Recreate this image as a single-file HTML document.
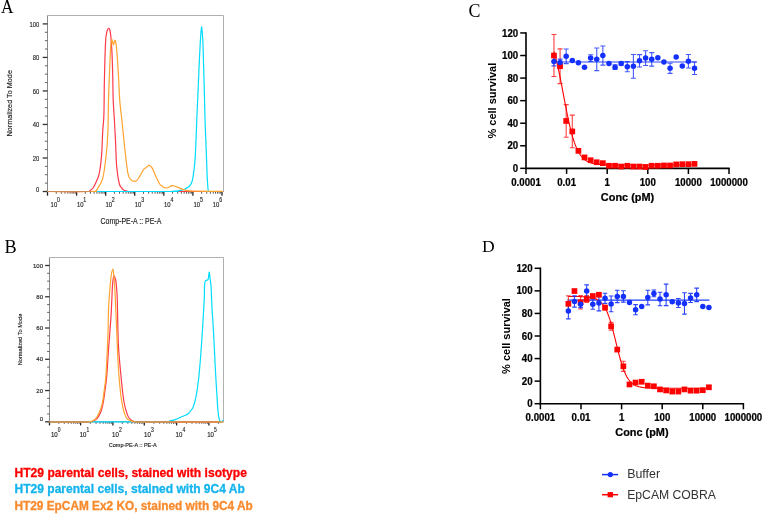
<!DOCTYPE html>
<html><head><meta charset="utf-8"><title>Figure</title>
<style>
html,body{margin:0;padding:0;background:#fff;width:764px;height:514px;overflow:hidden}
svg{display:block;filter:blur(0.3px)}
text{font-family:"Liberation Sans",sans-serif}
</style></head><body>
<svg width="764" height="514" viewBox="0 0 764 514">
<rect width="764" height="514" fill="#fff"/>
<text transform="translate(1.0 13.3) scale(0.93 1)" font-size="18.6" style="font-family:'Liberation Serif',serif" fill="#000">A</text>
<text x="4.4" y="253.1" font-size="18.2" style="font-family:'Liberation Serif',serif" fill="#000">B</text>
<text transform="translate(468.6 16.8) scale(0.93 1)" font-size="19.3" style="font-family:'Liberation Serif',serif" fill="#000">C</text>
<text x="482.0" y="251.9" font-size="17.6" style="font-family:'Liberation Serif',serif" fill="#000">D</text>
<path d="M47.5 15.5H223.5V191.5" fill="none" stroke="#b0b0b0" stroke-width="1"/>
<path d="M47.5 15.5V191.5H223.5" fill="none" stroke="#8a8a8a" stroke-width="1"/>
<path d="M42.7 191.5H47.5" stroke="#333" stroke-width="1.3"/>
<text transform="translate(39.3 191.65) scale(0.76 1)" font-size="7.7" text-anchor="end" fill="#222" stroke="#222" stroke-width="0.15">0</text>
<path d="M44.9 183.12H47.5" stroke="#555" stroke-width="0.9"/>
<path d="M44.9 174.74H47.5" stroke="#555" stroke-width="0.9"/>
<path d="M44.9 166.36H47.5" stroke="#555" stroke-width="0.9"/>
<path d="M42.7 157.98H47.5" stroke="#333" stroke-width="1.3"/>
<text transform="translate(39.3 160.73) scale(0.76 1)" font-size="7.7" text-anchor="end" fill="#222" stroke="#222" stroke-width="0.15">20</text>
<path d="M44.9 149.6H47.5" stroke="#555" stroke-width="0.9"/>
<path d="M44.9 141.22H47.5" stroke="#555" stroke-width="0.9"/>
<path d="M44.9 132.84H47.5" stroke="#555" stroke-width="0.9"/>
<path d="M42.7 124.46H47.5" stroke="#333" stroke-width="1.3"/>
<text transform="translate(39.3 127.21) scale(0.76 1)" font-size="7.7" text-anchor="end" fill="#222" stroke="#222" stroke-width="0.15">40</text>
<path d="M44.9 116.08H47.5" stroke="#555" stroke-width="0.9"/>
<path d="M44.9 107.7H47.5" stroke="#555" stroke-width="0.9"/>
<path d="M44.9 99.32H47.5" stroke="#555" stroke-width="0.9"/>
<path d="M42.7 90.94H47.5" stroke="#333" stroke-width="1.3"/>
<text transform="translate(39.3 93.69) scale(0.76 1)" font-size="7.7" text-anchor="end" fill="#222" stroke="#222" stroke-width="0.15">60</text>
<path d="M44.9 82.56H47.5" stroke="#555" stroke-width="0.9"/>
<path d="M44.9 74.18H47.5" stroke="#555" stroke-width="0.9"/>
<path d="M44.9 65.8H47.5" stroke="#555" stroke-width="0.9"/>
<path d="M42.7 57.42H47.5" stroke="#333" stroke-width="1.3"/>
<text transform="translate(39.3 60.17) scale(0.76 1)" font-size="7.7" text-anchor="end" fill="#222" stroke="#222" stroke-width="0.15">80</text>
<path d="M44.9 49.04H47.5" stroke="#555" stroke-width="0.9"/>
<path d="M44.9 40.66H47.5" stroke="#555" stroke-width="0.9"/>
<path d="M44.9 32.28H47.5" stroke="#555" stroke-width="0.9"/>
<path d="M42.7 23.9H47.5" stroke="#333" stroke-width="1.3"/>
<text transform="translate(39.3 26.65) scale(0.76 1)" font-size="7.7" text-anchor="end" fill="#222" stroke="#222" stroke-width="0.15">100</text>
<path d="M47.5 191.5V195.7" stroke="#222" stroke-width="1.3"/>
<path d="M56.25 191.5V193.7" stroke="#444" stroke-width="0.9"/>
<path d="M61.37 191.5V193.7" stroke="#444" stroke-width="0.9"/>
<path d="M65.01 191.5V193.7" stroke="#444" stroke-width="0.9"/>
<path d="M67.83 191.5V193.7" stroke="#444" stroke-width="0.9"/>
<path d="M70.13 191.5V193.7" stroke="#444" stroke-width="0.9"/>
<path d="M72.08 191.5V193.7" stroke="#444" stroke-width="0.9"/>
<path d="M73.76 191.5V193.7" stroke="#444" stroke-width="0.9"/>
<path d="M75.25 191.5V193.7" stroke="#444" stroke-width="0.9"/>
<path d="M76.58 191.5V195.7" stroke="#222" stroke-width="1.3"/>
<path d="M85.33 191.5V193.7" stroke="#444" stroke-width="0.9"/>
<path d="M90.45 191.5V193.7" stroke="#444" stroke-width="0.9"/>
<path d="M94.09 191.5V193.7" stroke="#444" stroke-width="0.9"/>
<path d="M96.91 191.5V193.7" stroke="#444" stroke-width="0.9"/>
<path d="M99.21 191.5V193.7" stroke="#444" stroke-width="0.9"/>
<path d="M101.16 191.5V193.7" stroke="#444" stroke-width="0.9"/>
<path d="M102.84 191.5V193.7" stroke="#444" stroke-width="0.9"/>
<path d="M104.33 191.5V193.7" stroke="#444" stroke-width="0.9"/>
<path d="M105.66 191.5V195.7" stroke="#222" stroke-width="1.3"/>
<path d="M114.41 191.5V193.7" stroke="#444" stroke-width="0.9"/>
<path d="M119.53 191.5V193.7" stroke="#444" stroke-width="0.9"/>
<path d="M123.17 191.5V193.7" stroke="#444" stroke-width="0.9"/>
<path d="M125.99 191.5V193.7" stroke="#444" stroke-width="0.9"/>
<path d="M128.29 191.5V193.7" stroke="#444" stroke-width="0.9"/>
<path d="M130.24 191.5V193.7" stroke="#444" stroke-width="0.9"/>
<path d="M131.92 191.5V193.7" stroke="#444" stroke-width="0.9"/>
<path d="M133.41 191.5V193.7" stroke="#444" stroke-width="0.9"/>
<path d="M134.74 191.5V195.7" stroke="#222" stroke-width="1.3"/>
<path d="M143.49 191.5V193.7" stroke="#444" stroke-width="0.9"/>
<path d="M148.61 191.5V193.7" stroke="#444" stroke-width="0.9"/>
<path d="M152.25 191.5V193.7" stroke="#444" stroke-width="0.9"/>
<path d="M155.07 191.5V193.7" stroke="#444" stroke-width="0.9"/>
<path d="M157.37 191.5V193.7" stroke="#444" stroke-width="0.9"/>
<path d="M159.32 191.5V193.7" stroke="#444" stroke-width="0.9"/>
<path d="M161 191.5V193.7" stroke="#444" stroke-width="0.9"/>
<path d="M162.49 191.5V193.7" stroke="#444" stroke-width="0.9"/>
<path d="M163.82 191.5V195.7" stroke="#222" stroke-width="1.3"/>
<path d="M172.57 191.5V193.7" stroke="#444" stroke-width="0.9"/>
<path d="M177.69 191.5V193.7" stroke="#444" stroke-width="0.9"/>
<path d="M181.33 191.5V193.7" stroke="#444" stroke-width="0.9"/>
<path d="M184.15 191.5V193.7" stroke="#444" stroke-width="0.9"/>
<path d="M186.45 191.5V193.7" stroke="#444" stroke-width="0.9"/>
<path d="M188.4 191.5V193.7" stroke="#444" stroke-width="0.9"/>
<path d="M190.08 191.5V193.7" stroke="#444" stroke-width="0.9"/>
<path d="M191.57 191.5V193.7" stroke="#444" stroke-width="0.9"/>
<path d="M192.9 191.5V195.7" stroke="#222" stroke-width="1.3"/>
<path d="M201.65 191.5V193.7" stroke="#444" stroke-width="0.9"/>
<path d="M206.77 191.5V193.7" stroke="#444" stroke-width="0.9"/>
<path d="M210.41 191.5V193.7" stroke="#444" stroke-width="0.9"/>
<path d="M213.23 191.5V193.7" stroke="#444" stroke-width="0.9"/>
<path d="M215.53 191.5V193.7" stroke="#444" stroke-width="0.9"/>
<path d="M217.48 191.5V193.7" stroke="#444" stroke-width="0.9"/>
<path d="M219.16 191.5V193.7" stroke="#444" stroke-width="0.9"/>
<path d="M220.65 191.5V193.7" stroke="#444" stroke-width="0.9"/>
<path d="M221.98 191.5V195.7" stroke="#222" stroke-width="1.3"/>
<path d="M47.5 191.5C53.92 191.5 78.92 191.65 86 191.5C93.08 191.35 88.83 191.18 90 190.6C91.17 190.02 92.05 189.27 93 188C93.95 186.73 94.67 185.38 95.7 183C96.73 180.62 98.22 178.37 99.2 173.7C100.18 169.03 101.02 162 101.6 155C102.18 148 102.32 138.37 102.7 131.7C103.08 125.03 103.63 122.78 103.9 115C104.17 107.22 104.13 94.17 104.3 85C104.47 75.83 104.67 67.5 104.9 60C105.13 52.5 105.42 44.5 105.7 40C105.98 35.5 106.28 34.73 106.6 33C106.92 31.27 107.22 30.38 107.6 29.6C107.98 28.82 108.5 28.15 108.9 28.3C109.3 28.45 109.67 29.05 110 30.5C110.33 31.95 110.58 33.57 110.9 37C111.22 40.43 111.6 44.85 111.9 51.1C112.2 57.35 112.48 66.35 112.7 74.5C112.92 82.65 112.92 92.42 113.2 100C113.48 107.58 114 112.78 114.4 120C114.8 127.22 115.22 135.52 115.6 143.3C115.98 151.08 116.12 160.08 116.7 166.7C117.28 173.32 118.32 179.5 119.1 183C119.88 186.5 120.58 186.48 121.4 187.7C122.22 188.92 122.9 189.7 124 190.3C125.1 190.9 126.17 191.1 128 191.3C129.83 191.5 119.17 191.47 135 191.5C150.83 191.53 208.33 191.5 223 191.5" fill="none" stroke="#ff3a48" stroke-width="1.2" stroke-linejoin="round"/>
<path d="M47.5 191.5C67.58 191.5 147.17 191.52 168 191.5C188.83 191.48 170.83 191.52 172.5 191.4C174.17 191.28 176.42 191.02 178 190.8C179.58 190.58 180.83 190.38 182 190.1C183.17 189.82 184 189.57 185 189.1C186 188.63 187.07 188.05 188 187.3C188.93 186.55 189.9 185.65 190.6 184.6C191.3 183.55 191.75 182.6 192.2 181C192.65 179.4 192.9 177.67 193.3 175C193.7 172.33 194.23 168.83 194.6 165C194.97 161.17 195.23 157 195.5 152C195.77 147 195.97 140.83 196.2 135C196.43 129.17 196.58 124.5 196.9 117C197.22 109.5 197.72 98.83 198.1 90C198.48 81.17 198.83 72 199.2 64C199.57 56 200 47.33 200.3 42C200.6 36.67 200.78 34.55 201 32C201.22 29.45 201.4 26.7 201.6 26.7C201.8 26.7 201.98 29.45 202.2 32C202.42 34.55 202.68 37 202.9 42C203.12 47 203.27 54 203.5 62C203.73 70 204.07 81.17 204.3 90C204.53 98.83 204.68 107.5 204.9 115C205.12 122.5 205.35 128.33 205.6 135C205.85 141.67 206.15 148.33 206.4 155C206.65 161.67 206.88 170 207.1 175C207.32 180 207.52 182.42 207.7 185C207.88 187.58 207.98 189.42 208.2 190.5C208.42 191.58 208.87 191.33 209 191.5" fill="none" stroke="#00dcff" stroke-width="1.2" stroke-linejoin="round"/>
<path d="M47.5 191.5C54.92 191.5 83.92 191.67 92 191.5C100.08 191.33 95 191.13 96 190.5C97 189.87 96.88 189.72 98 187.7C99.12 185.68 101.33 183.85 102.7 178.4C104.07 172.95 105.33 162.78 106.2 155C107.07 147.22 107.52 140.87 107.9 131.7C108.28 122.53 108.22 110.28 108.5 100C108.78 89.72 109.25 78.67 109.6 70C109.95 61.33 110.27 53.08 110.6 48C110.93 42.92 111.28 40.5 111.6 39.5C111.92 38.5 112.18 41.1 112.5 42C112.82 42.9 113.18 44.98 113.5 44.9C113.82 44.82 114.1 42.23 114.4 41.5C114.7 40.77 114.98 39.75 115.3 40.5C115.62 41.25 115.93 42.75 116.3 46C116.67 49.25 117.1 54.33 117.5 60C117.9 65.67 118.33 73.33 118.7 80C119.07 86.67 119.27 94.17 119.7 100C120.13 105.83 120.77 110 121.3 115C121.83 120 122.3 124.25 122.9 130C123.5 135.75 124.08 142.37 124.9 149.5C125.72 156.63 126.83 167.78 127.8 172.8C128.77 177.82 129.4 178.2 130.7 179.6C132 181 134.13 181.68 135.6 181.2C137.07 180.72 138.22 178.58 139.5 176.7C140.78 174.82 142.17 171.43 143.3 169.9C144.43 168.37 145.32 168.25 146.3 167.5C147.28 166.75 148.23 165.33 149.2 165.4C150.17 165.47 150.97 166.02 152.1 167.9C153.23 169.78 154.53 173.78 156 176.7C157.47 179.62 159.12 183.52 160.9 185.4C162.68 187.28 164.92 187.97 166.7 188C168.48 188.03 170.15 185.87 171.6 185.6C173.05 185.33 173.95 185.93 175.4 186.4C176.85 186.87 178.52 187.75 180.3 188.4C182.08 189.05 183.83 189.85 186.1 190.3C188.37 190.75 187.75 190.93 193.9 191.1C200.05 191.27 218.15 191.27 223 191.3" fill="none" stroke="#ffa22e" stroke-width="1.2" stroke-linejoin="round"/>
<path d="M47.5 191.5H90.5" stroke="#cf8a52" stroke-width="1.2"/>
<text transform="translate(50.6 206.6) scale(0.8 1)" font-size="7.4" fill="#222" stroke="#222" stroke-width="0.15">10</text>
<text transform="translate(57.05 202.3) scale(0.7 1)" font-size="7.5" fill="#222" stroke="#222" stroke-width="0.15">0</text>
<text transform="translate(76.9 206.6) scale(0.8 1)" font-size="7.4" fill="#222" stroke="#222" stroke-width="0.15">10</text>
<text transform="translate(83.35 202.3) scale(0.7 1)" font-size="7.5" fill="#222" stroke="#222" stroke-width="0.15">1</text>
<text transform="translate(105.4 206.6) scale(0.8 1)" font-size="7.4" fill="#222" stroke="#222" stroke-width="0.15">10</text>
<text transform="translate(111.85 202.3) scale(0.7 1)" font-size="7.5" fill="#222" stroke="#222" stroke-width="0.15">2</text>
<text transform="translate(134.8 206.6) scale(0.8 1)" font-size="7.4" fill="#222" stroke="#222" stroke-width="0.15">10</text>
<text transform="translate(141.25 202.3) scale(0.7 1)" font-size="7.5" fill="#222" stroke="#222" stroke-width="0.15">3</text>
<text transform="translate(164 206.6) scale(0.8 1)" font-size="7.4" fill="#222" stroke="#222" stroke-width="0.15">10</text>
<text transform="translate(170.45 202.3) scale(0.7 1)" font-size="7.5" fill="#222" stroke="#222" stroke-width="0.15">4</text>
<text transform="translate(193.5 206.6) scale(0.8 1)" font-size="7.4" fill="#222" stroke="#222" stroke-width="0.15">10</text>
<text transform="translate(199.95 202.3) scale(0.7 1)" font-size="7.5" fill="#222" stroke="#222" stroke-width="0.15">5</text>
<text transform="translate(212.7 206.6) scale(0.8 1)" font-size="7.4" fill="#222" stroke="#222" stroke-width="0.15">10</text>
<text transform="translate(219.15 202.3) scale(0.7 1)" font-size="7.5" fill="#222" stroke="#222" stroke-width="0.15">6</text>
<text transform="translate(100.6 224) scale(0.83 1)" font-size="8.4" fill="#222" stroke="#222" stroke-width="0.15">Comp-PE-A :: PE-A</text>
<text transform="translate(12.1 103.3) rotate(-90) scale(0.91 1)" font-size="8" text-anchor="middle" fill="#222" stroke="#222" stroke-width="0.15">Normalized To Mode</text>
<path d="M49.5 257.5H223.5V421.8" fill="none" stroke="#b0b0b0" stroke-width="1"/>
<path d="M49.5 257.5V421.8H223.5" fill="none" stroke="#8a8a8a" stroke-width="1"/>
<path d="M45.1 421.8H49.5" stroke="#333" stroke-width="1.3"/>
<text transform="translate(43 421.4) scale(0.97 1)" font-size="6.2" text-anchor="end" fill="#222" stroke="#222" stroke-width="0.15">0</text>
<path d="M47.1 413.99H49.5" stroke="#555" stroke-width="0.9"/>
<path d="M47.1 406.17H49.5" stroke="#555" stroke-width="0.9"/>
<path d="M47.1 398.36H49.5" stroke="#555" stroke-width="0.9"/>
<path d="M45.1 390.54H49.5" stroke="#333" stroke-width="1.3"/>
<text transform="translate(43 392.74) scale(0.97 1)" font-size="6.2" text-anchor="end" fill="#222" stroke="#222" stroke-width="0.15">20</text>
<path d="M47.1 382.73H49.5" stroke="#555" stroke-width="0.9"/>
<path d="M47.1 374.91H49.5" stroke="#555" stroke-width="0.9"/>
<path d="M47.1 367.1H49.5" stroke="#555" stroke-width="0.9"/>
<path d="M45.1 359.28H49.5" stroke="#333" stroke-width="1.3"/>
<text transform="translate(43 361.48) scale(0.97 1)" font-size="6.2" text-anchor="end" fill="#222" stroke="#222" stroke-width="0.15">40</text>
<path d="M47.1 351.47H49.5" stroke="#555" stroke-width="0.9"/>
<path d="M47.1 343.65H49.5" stroke="#555" stroke-width="0.9"/>
<path d="M47.1 335.84H49.5" stroke="#555" stroke-width="0.9"/>
<path d="M45.1 328.02H49.5" stroke="#333" stroke-width="1.3"/>
<text transform="translate(43 330.22) scale(0.97 1)" font-size="6.2" text-anchor="end" fill="#222" stroke="#222" stroke-width="0.15">60</text>
<path d="M47.1 320.2H49.5" stroke="#555" stroke-width="0.9"/>
<path d="M47.1 312.39H49.5" stroke="#555" stroke-width="0.9"/>
<path d="M47.1 304.57H49.5" stroke="#555" stroke-width="0.9"/>
<path d="M45.1 296.76H49.5" stroke="#333" stroke-width="1.3"/>
<text transform="translate(43 298.96) scale(0.97 1)" font-size="6.2" text-anchor="end" fill="#222" stroke="#222" stroke-width="0.15">80</text>
<path d="M47.1 288.94H49.5" stroke="#555" stroke-width="0.9"/>
<path d="M47.1 281.13H49.5" stroke="#555" stroke-width="0.9"/>
<path d="M47.1 273.31H49.5" stroke="#555" stroke-width="0.9"/>
<path d="M45.1 265.5H49.5" stroke="#333" stroke-width="1.3"/>
<text transform="translate(43 267.7) scale(0.97 1)" font-size="6.2" text-anchor="end" fill="#222" stroke="#222" stroke-width="0.15">100</text>
<path d="M49.5 421.8V425.4" stroke="#222" stroke-width="1.3"/>
<path d="M58.86 421.8V423.8" stroke="#444" stroke-width="0.9"/>
<path d="M64.34 421.8V423.8" stroke="#444" stroke-width="0.9"/>
<path d="M68.22 421.8V423.8" stroke="#444" stroke-width="0.9"/>
<path d="M71.24 421.8V423.8" stroke="#444" stroke-width="0.9"/>
<path d="M73.7 421.8V423.8" stroke="#444" stroke-width="0.9"/>
<path d="M75.78 421.8V423.8" stroke="#444" stroke-width="0.9"/>
<path d="M77.59 421.8V423.8" stroke="#444" stroke-width="0.9"/>
<path d="M79.18 421.8V423.8" stroke="#444" stroke-width="0.9"/>
<path d="M80.6 421.8V425.4" stroke="#222" stroke-width="1.3"/>
<path d="M90.32 421.8V423.8" stroke="#444" stroke-width="0.9"/>
<path d="M96.01 421.8V423.8" stroke="#444" stroke-width="0.9"/>
<path d="M100.05 421.8V423.8" stroke="#444" stroke-width="0.9"/>
<path d="M103.18 421.8V423.8" stroke="#444" stroke-width="0.9"/>
<path d="M105.73 421.8V423.8" stroke="#444" stroke-width="0.9"/>
<path d="M107.9 421.8V423.8" stroke="#444" stroke-width="0.9"/>
<path d="M109.77 421.8V423.8" stroke="#444" stroke-width="0.9"/>
<path d="M111.42 421.8V423.8" stroke="#444" stroke-width="0.9"/>
<path d="M112.9 421.8V425.4" stroke="#222" stroke-width="1.3"/>
<path d="M122.35 421.8V423.8" stroke="#444" stroke-width="0.9"/>
<path d="M127.88 421.8V423.8" stroke="#444" stroke-width="0.9"/>
<path d="M131.8 421.8V423.8" stroke="#444" stroke-width="0.9"/>
<path d="M134.85 421.8V423.8" stroke="#444" stroke-width="0.9"/>
<path d="M137.33 421.8V423.8" stroke="#444" stroke-width="0.9"/>
<path d="M139.44 421.8V423.8" stroke="#444" stroke-width="0.9"/>
<path d="M141.26 421.8V423.8" stroke="#444" stroke-width="0.9"/>
<path d="M142.86 421.8V423.8" stroke="#444" stroke-width="0.9"/>
<path d="M144.3 421.8V425.4" stroke="#222" stroke-width="1.3"/>
<path d="M154.02 421.8V423.8" stroke="#444" stroke-width="0.9"/>
<path d="M159.71 421.8V423.8" stroke="#444" stroke-width="0.9"/>
<path d="M163.75 421.8V423.8" stroke="#444" stroke-width="0.9"/>
<path d="M166.88 421.8V423.8" stroke="#444" stroke-width="0.9"/>
<path d="M169.43 421.8V423.8" stroke="#444" stroke-width="0.9"/>
<path d="M171.6 421.8V423.8" stroke="#444" stroke-width="0.9"/>
<path d="M173.47 421.8V423.8" stroke="#444" stroke-width="0.9"/>
<path d="M175.12 421.8V423.8" stroke="#444" stroke-width="0.9"/>
<path d="M176.6 421.8V425.4" stroke="#222" stroke-width="1.3"/>
<path d="M186.32 421.8V423.8" stroke="#444" stroke-width="0.9"/>
<path d="M192.01 421.8V423.8" stroke="#444" stroke-width="0.9"/>
<path d="M196.05 421.8V423.8" stroke="#444" stroke-width="0.9"/>
<path d="M199.18 421.8V423.8" stroke="#444" stroke-width="0.9"/>
<path d="M201.73 421.8V423.8" stroke="#444" stroke-width="0.9"/>
<path d="M203.9 421.8V423.8" stroke="#444" stroke-width="0.9"/>
<path d="M205.77 421.8V423.8" stroke="#444" stroke-width="0.9"/>
<path d="M207.42 421.8V423.8" stroke="#444" stroke-width="0.9"/>
<path d="M208.9 421.8V425.4" stroke="#222" stroke-width="1.3"/>
<path d="M218.62 421.8V423.8" stroke="#444" stroke-width="0.9"/>
<path d="M49.5 421.8C56.08 421.8 81.75 421.93 89 421.8C96.25 421.67 91.67 421.55 93 421C94.33 420.45 95.7 420 97 418.5C98.3 417 99.8 414.42 100.8 412C101.8 409.58 102.33 407.33 103 404C103.67 400.67 104.18 396.63 104.8 392C105.42 387.37 106.08 383.2 106.7 376.2C107.32 369.2 107.95 357.7 108.5 350C109.05 342.3 109.57 335.83 110 330C110.43 324.17 110.78 320.33 111.1 315C111.42 309.67 111.65 303.17 111.9 298C112.15 292.83 112.28 287.67 112.6 284C112.92 280.33 113.4 277 113.8 276C114.2 275 114.67 277.27 115 278C115.33 278.73 115.53 278.73 115.8 280.4C116.07 282.07 116.35 284.73 116.6 288C116.85 291.27 117.08 293 117.3 300C117.52 307 117.67 321.67 117.9 330C118.13 338.33 118.18 342.3 118.7 350C119.22 357.7 120.28 368.7 121 376.2C121.72 383.7 122.43 390.37 123 395C123.57 399.63 123.82 401.17 124.4 404C124.98 406.83 125.73 409.67 126.5 412C127.27 414.33 127.82 416.45 129 418C130.18 419.55 131.77 420.67 133.6 421.3C135.43 421.93 125.1 421.72 140 421.8C154.9 421.88 209.17 421.8 223 421.8" fill="none" stroke="#ff3a48" stroke-width="1.2" stroke-linejoin="round"/>
<path d="M49.5 421.8C68.58 421.8 143.92 422 164 421.8C184.08 421.6 168 421 170 420.6C172 420.2 174.1 420.03 176 419.4C177.9 418.77 179.82 417.48 181.4 416.8C182.98 416.12 184.32 415.85 185.5 415.3C186.68 414.75 187.58 414.3 188.5 413.5C189.42 412.7 190.23 411.55 191 410.5C191.77 409.45 192.47 408.62 193.1 407.2C193.73 405.78 194.25 404.12 194.8 402C195.35 399.88 195.78 398.17 196.4 394.5C197.02 390.83 197.85 385.62 198.5 380C199.15 374.38 199.75 367.47 200.3 360.8C200.85 354.13 201.35 346.62 201.8 340C202.25 333.38 202.6 327.77 203 321.1C203.4 314.43 203.93 306.02 204.2 300C204.47 293.98 204.38 288.17 204.6 285C204.82 281.83 205.13 281.78 205.5 281C205.87 280.22 206.35 280.63 206.8 280.3C207.25 279.97 207.8 280.35 208.2 279C208.6 277.65 208.93 272.7 209.2 272.2C209.47 271.7 209.63 274.78 209.8 276C209.97 277.22 209.98 277.63 210.2 279.5C210.42 281.37 210.87 283.97 211.1 287.2C211.33 290.43 211.43 295.1 211.6 298.9C211.77 302.7 211.85 305.65 212.1 310C212.35 314.35 212.75 319.17 213.1 325C213.45 330.83 213.82 337.5 214.2 345C214.58 352.5 215 362.5 215.4 370C215.8 377.5 216.18 383.33 216.6 390C217.02 396.67 217.45 405.08 217.9 410C218.35 414.92 218.78 417.53 219.3 419.5C219.82 421.47 220.45 421.52 221 421.8C221.55 422.08 222.18 421.53 222.6 421.2C223.02 420.87 223.35 420.03 223.5 419.8" fill="none" stroke="#00dcff" stroke-width="1.2" stroke-linejoin="round"/>
<path d="M49.5 421.8C55.92 421.8 80.92 421.93 88 421.8C95.08 421.67 90.67 421.55 92 421C93.33 420.45 94.75 420 96 418.5C97.25 417 98.47 414.42 99.5 412C100.53 409.58 101.45 407.33 102.2 404C102.95 400.67 103.38 396.63 104 392C104.62 387.37 105.35 383.2 105.9 376.2C106.45 369.2 106.93 357.7 107.3 350C107.67 342.3 107.9 336.67 108.1 330C108.3 323.33 108.22 316.67 108.5 310C108.78 303.33 109.33 295.83 109.8 290C110.27 284.17 110.78 278.5 111.3 275C111.82 271.5 112.48 269 112.9 269C113.32 269 113.47 271.5 113.8 275C114.13 278.5 114.57 284.17 114.9 290C115.23 295.83 115.5 303.33 115.8 310C116.1 316.67 116.38 322.5 116.7 330C117.02 337.5 117.32 347.3 117.7 355C118.08 362.7 118.48 369.53 119 376.2C119.52 382.87 120.27 390.37 120.8 395C121.33 399.63 121.62 401 122.2 404C122.78 407 123.45 410.5 124.3 413C125.15 415.5 125.85 417.62 127.3 419C128.75 420.38 130.88 420.83 133 421.3C135.12 421.77 124.92 421.72 140 421.8C155.08 421.88 209.58 421.8 223.5 421.8" fill="none" stroke="#ffa22e" stroke-width="1.2" stroke-linejoin="round"/>
<path d="M49.5 421.8H88.5" stroke="#cf8a52" stroke-width="1.2"/>
<path d="M135 421.8H219.5" stroke="#cf8a52" stroke-width="1.2"/>
<text transform="translate(50.9 436.6) scale(0.95 1)" font-size="6.4" fill="#222" stroke="#222" stroke-width="0.15">10</text>
<text transform="translate(57.8 431.7) scale(0.75 1)" font-size="6.6" fill="#222" stroke="#222" stroke-width="0.15">0</text>
<text transform="translate(79.7 436.6) scale(0.95 1)" font-size="6.4" fill="#222" stroke="#222" stroke-width="0.15">10</text>
<text transform="translate(86.6 431.7) scale(0.75 1)" font-size="6.6" fill="#222" stroke="#222" stroke-width="0.15">1</text>
<text transform="translate(112 436.6) scale(0.95 1)" font-size="6.4" fill="#222" stroke="#222" stroke-width="0.15">10</text>
<text transform="translate(118.9 431.7) scale(0.75 1)" font-size="6.6" fill="#222" stroke="#222" stroke-width="0.15">2</text>
<text transform="translate(144.1 436.6) scale(0.95 1)" font-size="6.4" fill="#222" stroke="#222" stroke-width="0.15">10</text>
<text transform="translate(151 431.7) scale(0.75 1)" font-size="6.6" fill="#222" stroke="#222" stroke-width="0.15">3</text>
<text transform="translate(175.6 436.6) scale(0.95 1)" font-size="6.4" fill="#222" stroke="#222" stroke-width="0.15">10</text>
<text transform="translate(182.5 431.7) scale(0.75 1)" font-size="6.6" fill="#222" stroke="#222" stroke-width="0.15">4</text>
<text transform="translate(207.2 436.6) scale(0.95 1)" font-size="6.4" fill="#222" stroke="#222" stroke-width="0.15">10</text>
<text transform="translate(214.1 431.7) scale(0.75 1)" font-size="6.6" fill="#222" stroke="#222" stroke-width="0.15">5</text>
<text transform="translate(108.8 446.8)" font-size="5.5" fill="#222" stroke="#222" stroke-width="0.15">Comp-PE-A :: PE-A</text>
<text transform="translate(21.7 339.5) rotate(-90) scale(0.94 1)" font-size="6" text-anchor="middle" fill="#222" stroke="#222" stroke-width="0.15">Normalized To Mode</text>
<text font-size="12" font-weight="bold" fill="#ff0000" stroke="#ff0000" stroke-width="0.3"><tspan x="14.5" y="476.7" textLength="232.4" lengthAdjust="spacingAndGlyphs">HT29 parental cells, stained with isotype</tspan></text>
<text font-size="12" font-weight="bold" fill="#14b4ee" stroke="#14b4ee" stroke-width="0.3"><tspan x="14.5" y="493.2" textLength="230.4" lengthAdjust="spacingAndGlyphs">HT29 parental cells, stained with 9C4 Ab</tspan></text>
<text font-size="12" font-weight="bold" fill="#f98a2c" stroke="#f98a2c" stroke-width="0.3"><tspan x="14.5" y="510" textLength="238.3" lengthAdjust="spacingAndGlyphs">HT29 EpCAM Ex2 KO, stained with 9C4 Ab</tspan></text>
<path d="M526 32.25V168.35H729.7" fill="none" stroke="#000" stroke-width="1.6"/>
<path d="M520.2 168.35H526" stroke="#000" stroke-width="1.5"/>
<text transform="translate(518.2 171.95) scale(0.88 1)" font-size="11" text-anchor="end" fill="#000" font-weight="bold" stroke="#000" stroke-width="0.25">0</text>
<path d="M520.2 145.78H526" stroke="#000" stroke-width="1.5"/>
<text transform="translate(518.2 149.38) scale(0.88 1)" font-size="11" text-anchor="end" fill="#000" font-weight="bold" stroke="#000" stroke-width="0.25">20</text>
<path d="M520.2 123.22H526" stroke="#000" stroke-width="1.5"/>
<text transform="translate(518.2 126.82) scale(0.88 1)" font-size="11" text-anchor="end" fill="#000" font-weight="bold" stroke="#000" stroke-width="0.25">40</text>
<path d="M520.2 100.65H526" stroke="#000" stroke-width="1.5"/>
<text transform="translate(518.2 104.25) scale(0.88 1)" font-size="11" text-anchor="end" fill="#000" font-weight="bold" stroke="#000" stroke-width="0.25">60</text>
<path d="M520.2 78.08H526" stroke="#000" stroke-width="1.5"/>
<text transform="translate(518.2 81.68) scale(0.88 1)" font-size="11" text-anchor="end" fill="#000" font-weight="bold" stroke="#000" stroke-width="0.25">80</text>
<path d="M520.2 55.52H526" stroke="#000" stroke-width="1.5"/>
<text transform="translate(518.2 59.12) scale(0.88 1)" font-size="11" text-anchor="end" fill="#000" font-weight="bold" stroke="#000" stroke-width="0.25">100</text>
<path d="M520.2 32.95H526" stroke="#000" stroke-width="1.5"/>
<text transform="translate(518.2 36.55) scale(0.88 1)" font-size="11" text-anchor="end" fill="#000" font-weight="bold" stroke="#000" stroke-width="0.25">120</text>
<path d="M526 168.35V173.95" stroke="#000" stroke-width="1.5"/>
<text transform="translate(526 185.85) scale(0.88 1)" font-size="11" text-anchor="middle" fill="#000" font-weight="bold" stroke="#000" stroke-width="0.25">0.0001</text>
<path d="M566.6 168.35V173.95" stroke="#000" stroke-width="1.5"/>
<text transform="translate(566.6 185.85) scale(0.88 1)" font-size="11" text-anchor="middle" fill="#000" font-weight="bold" stroke="#000" stroke-width="0.25">0.01</text>
<path d="M607.2 168.35V173.95" stroke="#000" stroke-width="1.5"/>
<text transform="translate(607.2 185.85) scale(0.88 1)" font-size="11" text-anchor="middle" fill="#000" font-weight="bold" stroke="#000" stroke-width="0.25">1</text>
<path d="M647.8 168.35V173.95" stroke="#000" stroke-width="1.5"/>
<text transform="translate(647.8 185.85) scale(0.88 1)" font-size="11" text-anchor="middle" fill="#000" font-weight="bold" stroke="#000" stroke-width="0.25">100</text>
<path d="M688.4 168.35V173.95" stroke="#000" stroke-width="1.5"/>
<text transform="translate(688.4 185.85) scale(0.88 1)" font-size="11" text-anchor="middle" fill="#000" font-weight="bold" stroke="#000" stroke-width="0.25">10000</text>
<path d="M729 168.35V173.95" stroke="#000" stroke-width="1.5"/>
<text transform="translate(729 185.85) scale(0.88 1)" font-size="11" text-anchor="middle" fill="#000" font-weight="bold" stroke="#000" stroke-width="0.25">1000000</text>
<text transform="translate(627.5 200.75) scale(0.94 1)" font-size="11.6" text-anchor="middle" fill="#000" font-weight="bold" stroke="#000" stroke-width="0.25">Conc (pM)</text>
<text transform="translate(495.7 100.65) rotate(-90)" font-size="11" font-weight="bold" text-anchor="middle" fill="#000">% cell survival</text>
<path d="M552.96 61.95H696.51" stroke="#1430fc" stroke-opacity="0.6" stroke-width="1.5"/>
<path d="M553.96 51.58 L554.66 53.96 L555.37 56.49 L556.07 59.18 L556.77 62.01 L557.47 64.99 L558.18 68.11 L558.88 71.36 L559.58 74.73 L560.28 78.2 L560.99 81.76 L561.69 85.4 L562.39 89.09 L563.1 92.81 L563.8 96.54 L564.5 100.26 L565.2 103.96 L565.91 107.6 L566.61 111.18 L567.31 114.66 L568.02 118.05 L568.72 121.32 L569.42 124.45 L570.12 127.46 L570.83 130.31 L571.53 133.02 L572.23 135.57 L572.93 137.98 L573.64 140.23 L574.34 142.33 L575.04 144.28 L575.75 146.09 L576.45 147.77 L577.15 149.32 L577.85 150.74 L578.56 152.05 L579.26 153.25 L579.96 154.35 L580.66 155.35 L581.37 156.27 L582.07 157.1 L582.77 157.86 L583.48 158.55 L584.18 159.17 L584.88 159.74 L585.58 160.26 L586.29 160.72 L586.99 161.14 L587.69 161.52 L588.39 161.87 L589.1 162.18 L589.8 162.46 L590.5 162.71 L591.21 162.94 L591.91 163.15 L592.61 163.33 L593.31 163.5 L594.02 163.65 L594.72 163.79 L595.42 163.91 L596.13 164.02 L596.83 164.12 L597.53 164.21 L598.23 164.29 L598.94 164.36 L599.64 164.42 L600.34 164.48 L601.04 164.53 L601.75 164.58 L602.45 164.62 L603.15 164.66 L603.86 164.7 L604.56 164.73 L605.26 164.76 L605.96 164.78 L606.67 164.8 L607.37 164.82 L608.07 164.84 L608.77 164.86 L609.48 164.87 L610.18 164.89 L610.88 164.9 L611.59 164.91 L612.29 164.92 L612.99 164.93 L613.69 164.93 L614.4 164.94 L615.1 164.95 L615.8 164.95 L616.51 164.96 L617.21 164.96 L617.91 164.97 L618.61 164.97 L619.32 164.97 L620.02 164.98 L620.72 164.98 L621.42 164.98 L622.13 164.98 L622.83 164.99 L623.53 164.99 L624.24 164.99 L624.94 164.99 L625.64 164.99 L626.34 164.99 L627.05 164.99 L627.75 165 L628.45 165 L629.15 165 L629.86 165 L630.56 165 L631.26 165 L631.97 165 L632.67 165 L633.37 165 L634.07 165 L634.78 165 L635.48 165 L636.18 165 L636.89 165 L637.59 165 L638.29 165 L638.99 165 L639.7 165 L640.4 165 L641.1 165 L641.8 165 L642.51 165 L643.21 165 L643.91 165 L644.62 165 L645.32 165 L646.02 165 L646.72 165 L647.43 165 L648.13 165 L648.83 165 L649.53 165 L650.24 165 L650.94 165 L651.64 165 L652.35 165 L653.05 165 L653.75 165 L654.45 165 L655.16 165 L655.86 165 L656.56 165 L657.26 165 L657.97 165 L658.67 165 L659.37 165 L660.08 165 L660.78 165 L661.48 165 L662.18 165 L662.89 165 L663.59 165 L664.29 165 L665 165 L665.7 165 L666.4 165 L667.1 165 L667.81 165 L668.51 165 L669.21 165 L669.91 165 L670.62 165 L671.32 165 L672.02 165 L672.73 165 L673.43 165 L674.13 165 L674.83 165 L675.54 165 L676.24 165 L676.94 165 L677.64 165 L678.35 165 L679.05 165 L679.75 165 L680.46 165 L681.16 165 L681.86 165 L682.56 165 L683.27 165 L683.97 165 L684.67 165 L685.38 165 L686.08 165 L686.78 165 L687.48 165 L688.19 165 L688.89 165 L689.59 165 L690.29 165 L691 165 L691.7 165 L692.4 165 L693.11 165 L693.81 165 L694.51 165" fill="none" stroke="#ff0000" stroke-width="1.1"/>
<path d="M553.96 34.53V76.5M551.46 34.53H556.46M551.46 76.5H556.46" stroke="#ff0000" stroke-opacity="0.75" stroke-width="1.1" fill="none"/>
<path d="M560.07 48.86V83.61M557.57 48.86H562.57M557.57 83.61H562.57" stroke="#ff0000" stroke-opacity="0.75" stroke-width="1.1" fill="none"/>
<path d="M566.18 104.6V137.32M563.68 104.6H568.68M563.68 137.32H568.68" stroke="#ff0000" stroke-opacity="0.75" stroke-width="1.1" fill="none"/>
<path d="M572.29 115.09V147.81M569.79 115.09H574.79M569.79 147.81H574.79" stroke="#ff0000" stroke-opacity="0.75" stroke-width="1.1" fill="none"/>




















<path d="M553.96 56.87V65.9M551.46 56.87H556.46M551.46 65.9H556.46" stroke="#1430fc" stroke-opacity="0.8" stroke-width="1.1" fill="none"/>
<path d="M560.07 59.13V65.9M557.57 59.13H562.57M557.57 65.9H562.57" stroke="#1430fc" stroke-opacity="0.8" stroke-width="1.1" fill="none"/>
<path d="M566.18 48.97V63.64M563.68 48.97H568.68M563.68 63.64H568.68" stroke="#1430fc" stroke-opacity="0.8" stroke-width="1.1" fill="none"/>



<path d="M590.63 54.73V61.5M588.13 54.73H593.13M588.13 61.5H593.13" stroke="#1430fc" stroke-opacity="0.8" stroke-width="1.1" fill="none"/>
<path d="M596.74 48.07V70.64M594.24 48.07H599.24M594.24 70.64H599.24" stroke="#1430fc" stroke-opacity="0.8" stroke-width="1.1" fill="none"/>
<path d="M602.85 45.93V65.11M600.35 45.93H605.35M600.35 65.11H605.35" stroke="#1430fc" stroke-opacity="0.8" stroke-width="1.1" fill="none"/>

<path d="M615.07 64.88V69.4M612.57 64.88H617.57M612.57 69.4H617.57" stroke="#1430fc" stroke-opacity="0.8" stroke-width="1.1" fill="none"/>
<path d="M621.18 61.84V65.22M618.68 61.84H623.68M618.68 65.22H623.68" stroke="#1430fc" stroke-opacity="0.8" stroke-width="1.1" fill="none"/>
<path d="M627.29 61.61V71.76M624.79 61.61H629.79M624.79 71.76H629.79" stroke="#1430fc" stroke-opacity="0.8" stroke-width="1.1" fill="none"/>
<path d="M633.4 54.5V78.2M630.9 54.5H635.9M630.9 78.2H635.9" stroke="#1430fc" stroke-opacity="0.8" stroke-width="1.1" fill="none"/>
<path d="M639.51 54.61V67.03M637.01 54.61H642.01M637.01 67.03H642.01" stroke="#1430fc" stroke-opacity="0.8" stroke-width="1.1" fill="none"/>
<path d="M645.62 50.78V65.45M643.12 50.78H648.12M643.12 65.45H648.12" stroke="#1430fc" stroke-opacity="0.8" stroke-width="1.1" fill="none"/>
<path d="M651.73 52.58V66.12M649.23 52.58H654.23M649.23 66.12H654.23" stroke="#1430fc" stroke-opacity="0.8" stroke-width="1.1" fill="none"/>


<path d="M670.07 63.19V73.34M667.57 63.19H672.57M667.57 73.34H672.57" stroke="#1430fc" stroke-opacity="0.8" stroke-width="1.1" fill="none"/>


<path d="M688.4 54.5V68.04M685.9 54.5H690.9M685.9 68.04H690.9" stroke="#1430fc" stroke-opacity="0.8" stroke-width="1.1" fill="none"/>
<path d="M694.51 62.06V74.47M692.01 62.06H697.01M692.01 74.47H697.01" stroke="#1430fc" stroke-opacity="0.8" stroke-width="1.1" fill="none"/>
<rect x="551.11" y="52.67" width="5.7" height="5.7" fill="#ff0000"/>
<rect x="557.22" y="63.39" width="5.7" height="5.7" fill="#ff0000"/>
<rect x="563.33" y="118.11" width="5.7" height="5.7" fill="#ff0000"/>
<rect x="569.44" y="128.6" width="5.7" height="5.7" fill="#ff0000"/>
<rect x="575.55" y="148.01" width="5.7" height="5.7" fill="#ff0000"/>
<rect x="581.66" y="154.56" width="5.7" height="5.7" fill="#ff0000"/>
<rect x="587.78" y="157.38" width="5.7" height="5.7" fill="#ff0000"/>
<rect x="593.89" y="159.41" width="5.7" height="5.7" fill="#ff0000"/>
<rect x="600" y="160.31" width="5.7" height="5.7" fill="#ff0000"/>
<rect x="606.11" y="162.9" width="5.7" height="5.7" fill="#ff0000"/>
<rect x="612.22" y="162.9" width="5.7" height="5.7" fill="#ff0000"/>
<rect x="618.33" y="163.69" width="5.7" height="5.7" fill="#ff0000"/>
<rect x="624.44" y="162.9" width="5.7" height="5.7" fill="#ff0000"/>
<rect x="630.55" y="163.69" width="5.7" height="5.7" fill="#ff0000"/>
<rect x="636.66" y="163.69" width="5.7" height="5.7" fill="#ff0000"/>
<rect x="642.77" y="164.15" width="5.7" height="5.7" fill="#ff0000"/>
<rect x="648.88" y="162.9" width="5.7" height="5.7" fill="#ff0000"/>
<rect x="655" y="162.9" width="5.7" height="5.7" fill="#ff0000"/>
<rect x="661.11" y="162.62" width="5.7" height="5.7" fill="#ff0000"/>
<rect x="667.22" y="162.62" width="5.7" height="5.7" fill="#ff0000"/>
<rect x="673.33" y="161.55" width="5.7" height="5.7" fill="#ff0000"/>
<rect x="679.44" y="161.33" width="5.7" height="5.7" fill="#ff0000"/>
<rect x="685.55" y="161.33" width="5.7" height="5.7" fill="#ff0000"/>
<rect x="691.66" y="161.04" width="5.7" height="5.7" fill="#ff0000"/>
<circle cx="553.96" cy="61.38" r="2.75" fill="#1430fc"/>
<circle cx="560.07" cy="62.51" r="2.75" fill="#1430fc"/>
<circle cx="566.18" cy="56.31" r="2.75" fill="#1430fc"/>
<circle cx="572.29" cy="60.48" r="2.75" fill="#1430fc"/>
<circle cx="578.4" cy="62.74" r="2.75" fill="#1430fc"/>
<circle cx="584.51" cy="67.14" r="2.75" fill="#1430fc"/>
<circle cx="590.63" cy="58.11" r="2.75" fill="#1430fc"/>
<circle cx="596.74" cy="59.35" r="2.75" fill="#1430fc"/>
<circle cx="602.85" cy="55.52" r="2.75" fill="#1430fc"/>
<circle cx="608.96" cy="63.53" r="2.75" fill="#1430fc"/>
<circle cx="615.07" cy="67.14" r="2.75" fill="#1430fc"/>
<circle cx="621.18" cy="63.53" r="2.75" fill="#1430fc"/>
<circle cx="627.29" cy="66.69" r="2.75" fill="#1430fc"/>
<circle cx="633.4" cy="66.35" r="2.75" fill="#1430fc"/>
<circle cx="639.51" cy="60.82" r="2.75" fill="#1430fc"/>
<circle cx="645.62" cy="58.11" r="2.75" fill="#1430fc"/>
<circle cx="651.73" cy="59.35" r="2.75" fill="#1430fc"/>
<circle cx="657.85" cy="57.77" r="2.75" fill="#1430fc"/>
<circle cx="663.96" cy="61.95" r="2.75" fill="#1430fc"/>
<circle cx="670.07" cy="68.27" r="2.75" fill="#1430fc"/>
<circle cx="676.18" cy="56.98" r="2.75" fill="#1430fc"/>
<circle cx="682.29" cy="66.12" r="2.75" fill="#1430fc"/>
<circle cx="688.4" cy="61.27" r="2.75" fill="#1430fc"/>
<circle cx="694.51" cy="68.27" r="2.75" fill="#1430fc"/>
<path d="M540.4 267.6V403.7H744.1" fill="none" stroke="#000" stroke-width="1.6"/>
<path d="M534.6 403.7H540.4" stroke="#000" stroke-width="1.5"/>
<text transform="translate(532.6 407.3) scale(0.88 1)" font-size="11" text-anchor="end" fill="#000" font-weight="bold" stroke="#000" stroke-width="0.25">0</text>
<path d="M534.6 381.13H540.4" stroke="#000" stroke-width="1.5"/>
<text transform="translate(532.6 384.73) scale(0.88 1)" font-size="11" text-anchor="end" fill="#000" font-weight="bold" stroke="#000" stroke-width="0.25">20</text>
<path d="M534.6 358.57H540.4" stroke="#000" stroke-width="1.5"/>
<text transform="translate(532.6 362.17) scale(0.88 1)" font-size="11" text-anchor="end" fill="#000" font-weight="bold" stroke="#000" stroke-width="0.25">40</text>
<path d="M534.6 336H540.4" stroke="#000" stroke-width="1.5"/>
<text transform="translate(532.6 339.6) scale(0.88 1)" font-size="11" text-anchor="end" fill="#000" font-weight="bold" stroke="#000" stroke-width="0.25">60</text>
<path d="M534.6 313.43H540.4" stroke="#000" stroke-width="1.5"/>
<text transform="translate(532.6 317.03) scale(0.88 1)" font-size="11" text-anchor="end" fill="#000" font-weight="bold" stroke="#000" stroke-width="0.25">80</text>
<path d="M534.6 290.87H540.4" stroke="#000" stroke-width="1.5"/>
<text transform="translate(532.6 294.47) scale(0.88 1)" font-size="11" text-anchor="end" fill="#000" font-weight="bold" stroke="#000" stroke-width="0.25">100</text>
<path d="M534.6 268.3H540.4" stroke="#000" stroke-width="1.5"/>
<text transform="translate(532.6 271.9) scale(0.88 1)" font-size="11" text-anchor="end" fill="#000" font-weight="bold" stroke="#000" stroke-width="0.25">120</text>
<path d="M540.4 403.7V409.3" stroke="#000" stroke-width="1.5"/>
<text transform="translate(540.4 421.2) scale(0.88 1)" font-size="11" text-anchor="middle" fill="#000" font-weight="bold" stroke="#000" stroke-width="0.25">0.0001</text>
<path d="M581 403.7V409.3" stroke="#000" stroke-width="1.5"/>
<text transform="translate(581 421.2) scale(0.88 1)" font-size="11" text-anchor="middle" fill="#000" font-weight="bold" stroke="#000" stroke-width="0.25">0.01</text>
<path d="M621.6 403.7V409.3" stroke="#000" stroke-width="1.5"/>
<text transform="translate(621.6 421.2) scale(0.88 1)" font-size="11" text-anchor="middle" fill="#000" font-weight="bold" stroke="#000" stroke-width="0.25">1</text>
<path d="M662.2 403.7V409.3" stroke="#000" stroke-width="1.5"/>
<text transform="translate(662.2 421.2) scale(0.88 1)" font-size="11" text-anchor="middle" fill="#000" font-weight="bold" stroke="#000" stroke-width="0.25">100</text>
<path d="M702.8 403.7V409.3" stroke="#000" stroke-width="1.5"/>
<text transform="translate(702.8 421.2) scale(0.88 1)" font-size="11" text-anchor="middle" fill="#000" font-weight="bold" stroke="#000" stroke-width="0.25">10000</text>
<path d="M743.4 403.7V409.3" stroke="#000" stroke-width="1.5"/>
<text transform="translate(743.4 421.2) scale(0.88 1)" font-size="11" text-anchor="middle" fill="#000" font-weight="bold" stroke="#000" stroke-width="0.25">1000000</text>
<text transform="translate(641.9 436.1) scale(0.94 1)" font-size="11.6" text-anchor="middle" fill="#000" font-weight="bold" stroke="#000" stroke-width="0.25">Conc (pM)</text>
<text transform="translate(510.1 336) rotate(-90)" font-size="11" font-weight="bold" text-anchor="middle" fill="#000">% cell survival</text>
<path d="M567.36 300.12H709.41" stroke="#1430fc" stroke-opacity="0.95" stroke-width="1.1"/>
<path d="M568.36 296.47 L569.06 296.47 L569.77 296.48 L570.47 296.48 L571.17 296.48 L571.87 296.49 L572.58 296.49 L573.28 296.5 L573.98 296.5 L574.68 296.51 L575.39 296.52 L576.09 296.53 L576.79 296.54 L577.5 296.55 L578.2 296.56 L578.9 296.57 L579.6 296.59 L580.31 296.61 L581.01 296.63 L581.71 296.65 L582.42 296.68 L583.12 296.71 L583.82 296.75 L584.52 296.79 L585.23 296.83 L585.93 296.88 L586.63 296.94 L587.33 297 L588.04 297.07 L588.74 297.16 L589.44 297.25 L590.15 297.36 L590.85 297.48 L591.55 297.61 L592.25 297.76 L592.96 297.94 L593.66 298.13 L594.36 298.35 L595.06 298.6 L595.77 298.88 L596.47 299.19 L597.17 299.55 L597.88 299.95 L598.58 300.39 L599.28 300.89 L599.98 301.46 L600.69 302.08 L601.39 302.79 L602.09 303.57 L602.79 304.44 L603.5 305.4 L604.2 306.46 L604.9 307.64 L605.61 308.93 L606.31 310.35 L607.01 311.89 L607.71 313.57 L608.42 315.39 L609.12 317.35 L609.82 319.44 L610.53 321.67 L611.23 324.03 L611.93 326.51 L612.63 329.1 L613.34 331.78 L614.04 334.54 L614.74 337.36 L615.44 340.23 L616.15 343.1 L616.85 345.97 L617.55 348.82 L618.26 351.61 L618.96 354.33 L619.66 356.97 L620.36 359.5 L621.07 361.91 L621.77 364.2 L622.47 366.36 L623.17 368.38 L623.88 370.26 L624.58 372 L625.28 373.61 L625.99 375.09 L626.69 376.44 L627.39 377.66 L628.09 378.78 L628.8 379.79 L629.5 380.7 L630.2 381.52 L630.91 382.26 L631.61 382.92 L632.31 383.51 L633.01 384.04 L633.72 384.51 L634.42 384.93 L635.12 385.31 L635.82 385.64 L636.53 385.94 L637.23 386.2 L637.93 386.43 L638.64 386.64 L639.34 386.82 L640.04 386.98 L640.74 387.12 L641.45 387.25 L642.15 387.36 L642.85 387.46 L643.55 387.55 L644.26 387.63 L644.96 387.69 L645.66 387.75 L646.37 387.81 L647.07 387.85 L647.77 387.9 L648.47 387.93 L649.18 387.97 L649.88 387.99 L650.58 388.02 L651.29 388.04 L651.99 388.06 L652.69 388.08 L653.39 388.09 L654.1 388.11 L654.8 388.12 L655.5 388.13 L656.2 388.14 L656.91 388.15 L657.61 388.15 L658.31 388.16 L659.02 388.17 L659.72 388.17 L660.42 388.18 L661.12 388.18 L661.83 388.18 L662.53 388.19 L663.23 388.19 L663.93 388.19 L664.64 388.19 L665.34 388.19 L666.04 388.2 L666.75 388.2 L667.45 388.2 L668.15 388.2 L668.85 388.2 L669.56 388.2 L670.26 388.2 L670.96 388.2 L671.66 388.2 L672.37 388.2 L673.07 388.2 L673.77 388.21 L674.48 388.21 L675.18 388.21 L675.88 388.21 L676.58 388.21 L677.29 388.21 L677.99 388.21 L678.69 388.21 L679.4 388.21 L680.1 388.21 L680.8 388.21 L681.5 388.21 L682.21 388.21 L682.91 388.21 L683.61 388.21 L684.31 388.21 L685.02 388.21 L685.72 388.21 L686.42 388.21 L687.13 388.21 L687.83 388.21 L688.53 388.21 L689.23 388.21 L689.94 388.21 L690.64 388.21 L691.34 388.21 L692.04 388.21 L692.75 388.21 L693.45 388.21 L694.15 388.21 L694.86 388.21 L695.56 388.21 L696.26 388.21 L696.96 388.21 L697.67 388.21 L698.37 388.21 L699.07 388.21 L699.78 388.21 L700.48 388.21 L701.18 388.21 L701.88 388.21 L702.59 388.21 L703.29 388.21 L703.99 388.21 L704.69 388.21 L705.4 388.21 L706.1 388.21 L706.8 388.21 L707.51 388.21 L708.21 388.21 L708.91 388.21" fill="none" stroke="#ff0000" stroke-width="1.1"/>
<path d="M568.36 295.89V311.68M566.06 295.89H570.66M566.06 311.68H570.66" stroke="#ff0000" stroke-opacity="0.75" stroke-width="1.1" fill="none"/>

<path d="M580.58 295.44V308.98M578.28 295.44H582.88M578.28 308.98H582.88" stroke="#ff0000" stroke-opacity="0.75" stroke-width="1.1" fill="none"/>
<path d="M586.69 295.66V302.43M584.39 295.66H588.99M584.39 302.43H588.99" stroke="#ff0000" stroke-opacity="0.75" stroke-width="1.1" fill="none"/>


<path d="M605.03 305.37V309.88M602.73 305.37H607.33M602.73 309.88H607.33" stroke="#ff0000" stroke-opacity="0.75" stroke-width="1.1" fill="none"/>
<path d="M611.14 322.4V330.3M608.84 322.4H613.44M608.84 330.3H613.44" stroke="#ff0000" stroke-opacity="0.75" stroke-width="1.1" fill="none"/>

<path d="M623.36 361.22V371.37M621.06 361.22H625.66M621.06 371.37H625.66" stroke="#ff0000" stroke-opacity="0.75" stroke-width="1.1" fill="none"/>














<path d="M568.36 303.11V318.91M566.06 303.11H570.66M566.06 318.91H570.66" stroke="#1430fc" stroke-opacity="0.9" stroke-width="1.1" fill="none"/>
<path d="M574.47 295.89V307.17M572.17 295.89H576.77M572.17 307.17H576.77" stroke="#1430fc" stroke-opacity="0.9" stroke-width="1.1" fill="none"/>
<path d="M580.58 300.85V307.62M578.28 300.85H582.88M578.28 307.62H582.88" stroke="#1430fc" stroke-opacity="0.9" stroke-width="1.1" fill="none"/>
<path d="M586.69 284.83V297.24M584.39 284.83H588.99M584.39 297.24H588.99" stroke="#1430fc" stroke-opacity="0.9" stroke-width="1.1" fill="none"/>
<path d="M592.8 299.16V309.31M590.5 299.16H595.1M590.5 309.31H595.1" stroke="#1430fc" stroke-opacity="0.9" stroke-width="1.1" fill="none"/>
<path d="M598.91 295.1V310.89M596.61 295.1H601.21M596.61 310.89H601.21" stroke="#1430fc" stroke-opacity="0.9" stroke-width="1.1" fill="none"/>
<path d="M605.03 293.18V303.33M602.73 293.18H607.33M602.73 303.33H607.33" stroke="#1430fc" stroke-opacity="0.9" stroke-width="1.1" fill="none"/>
<path d="M611.14 296V311.8M608.84 296H613.44M608.84 311.8H613.44" stroke="#1430fc" stroke-opacity="0.9" stroke-width="1.1" fill="none"/>
<path d="M617.25 290.25V302.66M614.95 290.25H619.55M614.95 302.66H619.55" stroke="#1430fc" stroke-opacity="0.9" stroke-width="1.1" fill="none"/>
<path d="M623.36 290.81V302.09M621.06 290.81H625.66M621.06 302.09H625.66" stroke="#1430fc" stroke-opacity="0.9" stroke-width="1.1" fill="none"/>

<path d="M635.58 304.58V314.73M633.28 304.58H637.88M633.28 314.73H637.88" stroke="#1430fc" stroke-opacity="0.9" stroke-width="1.1" fill="none"/>

<path d="M647.8 290.25V304.91M645.5 290.25H650.1M645.5 304.91H650.1" stroke="#1430fc" stroke-opacity="0.9" stroke-width="1.1" fill="none"/>
<path d="M653.91 290.02V296.79M651.61 290.02H656.21M651.61 296.79H656.21" stroke="#1430fc" stroke-opacity="0.9" stroke-width="1.1" fill="none"/>
<path d="M660.02 292.28V305.82M657.72 292.28H662.32M657.72 305.82H662.32" stroke="#1430fc" stroke-opacity="0.9" stroke-width="1.1" fill="none"/>
<path d="M666.13 284.15V305.59M663.83 284.15H668.43M663.83 305.59H668.43" stroke="#1430fc" stroke-opacity="0.9" stroke-width="1.1" fill="none"/>

<path d="M678.36 298.48V307.51M676.06 298.48H680.66M676.06 307.51H680.66" stroke="#1430fc" stroke-opacity="0.9" stroke-width="1.1" fill="none"/>
<path d="M684.47 292.73V314.17M682.17 292.73H686.77M682.17 314.17H686.77" stroke="#1430fc" stroke-opacity="0.9" stroke-width="1.1" fill="none"/>
<path d="M690.58 293.41V302.43M688.28 293.41H692.88M688.28 302.43H692.88" stroke="#1430fc" stroke-opacity="0.9" stroke-width="1.1" fill="none"/>
<path d="M696.69 288.1V301.64M694.39 288.1H698.99M694.39 301.64H698.99" stroke="#1430fc" stroke-opacity="0.9" stroke-width="1.1" fill="none"/>


<rect x="565.51" y="300.94" width="5.7" height="5.7" fill="#ff0000"/>
<rect x="571.62" y="288.19" width="5.7" height="5.7" fill="#ff0000"/>
<rect x="577.73" y="299.36" width="5.7" height="5.7" fill="#ff0000"/>
<rect x="583.84" y="296.2" width="5.7" height="5.7" fill="#ff0000"/>
<rect x="589.95" y="293.15" width="5.7" height="5.7" fill="#ff0000"/>
<rect x="596.06" y="291.91" width="5.7" height="5.7" fill="#ff0000"/>
<rect x="602.18" y="304.77" width="5.7" height="5.7" fill="#ff0000"/>
<rect x="608.29" y="323.5" width="5.7" height="5.7" fill="#ff0000"/>
<rect x="614.4" y="346.75" width="5.7" height="5.7" fill="#ff0000"/>
<rect x="620.51" y="363.45" width="5.7" height="5.7" fill="#ff0000"/>
<rect x="626.62" y="381.61" width="5.7" height="5.7" fill="#ff0000"/>
<rect x="632.73" y="379.69" width="5.7" height="5.7" fill="#ff0000"/>
<rect x="638.84" y="378.9" width="5.7" height="5.7" fill="#ff0000"/>
<rect x="644.95" y="382.74" width="5.7" height="5.7" fill="#ff0000"/>
<rect x="651.06" y="383.42" width="5.7" height="5.7" fill="#ff0000"/>
<rect x="657.17" y="386.58" width="5.7" height="5.7" fill="#ff0000"/>
<rect x="663.28" y="387.59" width="5.7" height="5.7" fill="#ff0000"/>
<rect x="669.4" y="388.72" width="5.7" height="5.7" fill="#ff0000"/>
<rect x="675.51" y="388.72" width="5.7" height="5.7" fill="#ff0000"/>
<rect x="681.62" y="386.58" width="5.7" height="5.7" fill="#ff0000"/>
<rect x="687.73" y="387.82" width="5.7" height="5.7" fill="#ff0000"/>
<rect x="693.84" y="387.82" width="5.7" height="5.7" fill="#ff0000"/>
<rect x="699.95" y="387.37" width="5.7" height="5.7" fill="#ff0000"/>
<rect x="706.06" y="384.43" width="5.7" height="5.7" fill="#ff0000"/>
<circle cx="568.36" cy="311.01" r="2.75" fill="#1430fc"/>
<circle cx="574.47" cy="301.53" r="2.75" fill="#1430fc"/>
<circle cx="580.58" cy="304.24" r="2.75" fill="#1430fc"/>
<circle cx="586.69" cy="291.04" r="2.75" fill="#1430fc"/>
<circle cx="592.8" cy="304.24" r="2.75" fill="#1430fc"/>
<circle cx="598.91" cy="303" r="2.75" fill="#1430fc"/>
<circle cx="605.03" cy="298.26" r="2.75" fill="#1430fc"/>
<circle cx="611.14" cy="303.9" r="2.75" fill="#1430fc"/>
<circle cx="617.25" cy="296.45" r="2.75" fill="#1430fc"/>
<circle cx="623.36" cy="296.45" r="2.75" fill="#1430fc"/>
<circle cx="629.47" cy="302.43" r="2.75" fill="#1430fc"/>
<circle cx="635.58" cy="309.65" r="2.75" fill="#1430fc"/>
<circle cx="641.69" cy="306.38" r="2.75" fill="#1430fc"/>
<circle cx="647.8" cy="297.58" r="2.75" fill="#1430fc"/>
<circle cx="653.91" cy="293.41" r="2.75" fill="#1430fc"/>
<circle cx="660.02" cy="299.05" r="2.75" fill="#1430fc"/>
<circle cx="666.13" cy="294.87" r="2.75" fill="#1430fc"/>
<circle cx="672.25" cy="301.76" r="2.75" fill="#1430fc"/>
<circle cx="678.36" cy="303" r="2.75" fill="#1430fc"/>
<circle cx="684.47" cy="303.45" r="2.75" fill="#1430fc"/>
<circle cx="690.58" cy="297.92" r="2.75" fill="#1430fc"/>
<circle cx="696.69" cy="294.87" r="2.75" fill="#1430fc"/>
<circle cx="702.8" cy="306.38" r="2.75" fill="#1430fc"/>
<circle cx="708.91" cy="307.4" r="2.75" fill="#1430fc"/>
<path d="M602 474.6H618.1" stroke="#1430fc" stroke-width="1.5"/><circle cx="610.3" cy="474.6" r="2.6" fill="#1430fc"/>
<path d="M602 494.7H618.1" stroke="#ff0000" stroke-width="1.5"/><rect x="607.6" y="492.1" width="5.4" height="5.2" fill="#ff0000"/>
<text x="627.2" y="478" font-size="12.4" fill="#333">Buffer</text>
<text x="627.2" y="498.6" font-size="12.2" fill="#333">EpCAM COBRA</text>
</svg>
</body></html>
